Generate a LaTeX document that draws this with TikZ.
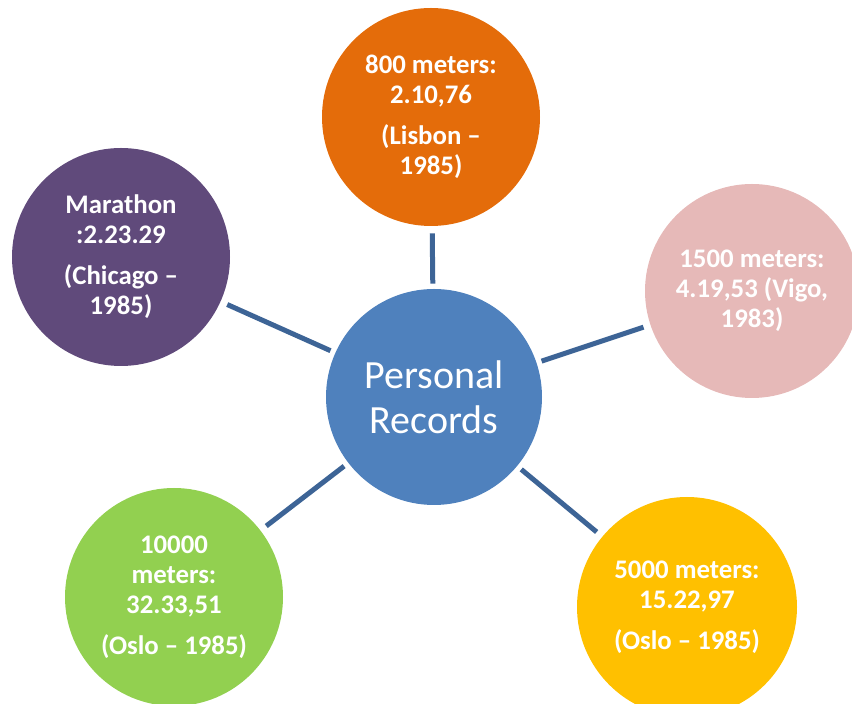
\documentclass[tikz,border=0pt]{standalone}
\usepackage{fontspec}
\setmainfont{Carlito}
\definecolor{hubblue}{RGB}{79,129,189}
\definecolor{linkblue}{RGB}{61,100,150}
\definecolor{recorange}{RGB}{228,108,10}
\definecolor{recpurple}{RGB}{96,74,123}
\definecolor{recpink}{RGB}{230,185,184}
\definecolor{recgreen}{RGB}{146,208,80}
\definecolor{recyellow}{RGB}{255,192,0}

\begin{document}
\begin{tikzpicture}[x=0.5pt, y=-0.5pt,
        hub/.style={circle, fill=hubblue, text=white, minimum size=108pt, inner sep=0pt, align=center, font=\fontsize{20}{22.5}\selectfont},
        rec/.style={circle, text=white, minimum size=109pt, inner sep=0pt, align=center, font=\fontsize{13.4}{15}\selectfont\bfseries},
        link/.style={draw=linkblue, line width=2.5pt, shorten <=2.5pt, shorten >=3.5pt}]

        \useasboundingbox (0,0) rectangle (852,704);
        \clip (0,0) rectangle (852,704);

        \node[hub] (hub) at (434,397) {Personal\\Records};
        \node[rec, fill=recorange] (lisbon) at (431,117) {800 meters:\\2.10,76\\[5.5pt](Lisbon --\\1985)};
        \node[rec, fill=recpurple] (chicago) at (121,257) {Marathon\\:2.23.29\\[5.5pt](Chicago --\\1985)};
        \node[rec, fill=recpink, minimum size=107pt] (vigo) at (752,291) {1500 meters:\\4.19,53 (Vigo,\\1983)};
        \node[rec, fill=recgreen] (oslo10k) at (174,597) {10000\\meters:\\32.33,51\\[5.5pt](Oslo -- 1985)};
        \node[rec, fill=recyellow, minimum size=110pt] (oslo5k) at (687,607) {5000 meters:\\15.22,97\\[5.5pt](Oslo -- 1985)};

        \draw[link] (hub) -- (lisbon);
        \draw[link] (hub) -- (chicago);
        \draw[link] (hub) -- (vigo);
        \draw[link] (hub) -- (oslo10k);
        \draw[link] (hub) -- (oslo5k);
    \end{tikzpicture}
\end{document}
